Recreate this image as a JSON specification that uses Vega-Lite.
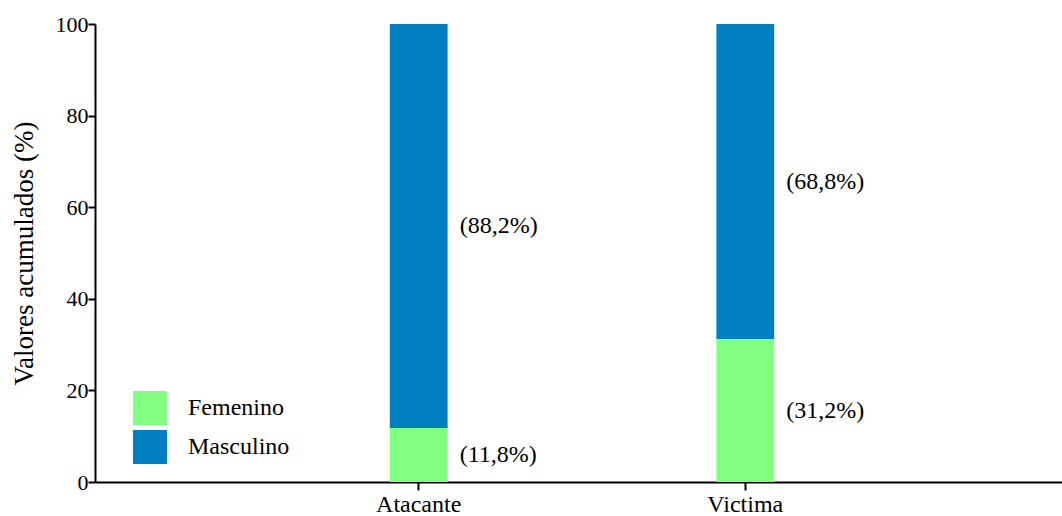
{
  "$schema": "https://vega.github.io/schema/vega-lite/v6.json",
  "autosize": {"type": "none"},
  "padding": {"left": 95, "top": 24, "right": 0, "bottom": 34},
  "width": 967,
  "height": 458,
  "background": "white",
  "config": {
    "view": {"stroke": null},
    "font": "Liberation Serif",
    "axis": {"grid": false, "domainColor": "black", "tickColor": "black", "domainWidth": 2, "tickWidth": 2, "labelColor": "black", "titleColor": "black", "labelFont": "Liberation Serif", "titleFont": "Liberation Serif"}
  },
  "data": {
    "values": [
      {"rol": "Atacante", "sexo": "Femenino", "valor": 11.8, "etiqueta": "(11,8%)"},
      {"rol": "Atacante", "sexo": "Masculino", "valor": 88.2, "etiqueta": "(88,2%)"},
      {"rol": "Victima", "sexo": "Femenino", "valor": 31.2, "etiqueta": "(31,2%)"},
      {"rol": "Victima", "sexo": "Masculino", "valor": 68.8, "etiqueta": "(68,8%)"}
    ]
  },
  "encoding": {
    "x": {
      "field": "rol", "type": "nominal", "sort": ["Atacante", "Victima"],
      "scale": {"paddingInner": 0.823, "paddingOuter": 0.892, "align": 0.506},
      "axis": {"title": null, "labelAngle": 0, "labelFontSize": 24, "tickSize": 8, "labelPadding": 2}
    }
  },
  "layer": [
    {
      "mark": {"type": "bar"},
      "encoding": {
        "y": {
          "field": "valor", "type": "quantitative", "stack": "zero",
          "scale": {"domain": [0, 100], "nice": false},
          "axis": {"title": "Valores acumulados (%)", "values": [0, 20, 40, 60, 80, 100], "labelFontSize": 22, "tickSize": 7, "labelPadding": 0, "titleFontSize": 27, "titleFontWeight": "normal", "titlePadding": 17}
        },
        "color": {
          "field": "sexo", "type": "nominal",
          "scale": {"domain": ["Femenino", "Masculino"], "range": ["#80FF80", "#0080C0"]},
          "legend": {"title": null, "orient": "none", "legendX": 38, "legendY": 367, "symbolType": "square", "symbolSize": 1156, "symbolStrokeWidth": 0, "labelFontSize": 24, "labelFont": "Liberation Serif", "labelColor": "black", "rowPadding": 5, "labelOffset": 21, "padding": 0}
        },
        "order": {"field": "sexo", "sort": "ascending"}
      }
    },
    {
      "mark": {"type": "text", "align": "left", "baseline": "middle", "dx": 41, "fontSize": 24, "font": "Liberation Serif", "color": "black"},
      "encoding": {
        "y": {"field": "valor", "type": "quantitative", "stack": "zero", "bandPosition": 0.5},
        "text": {"field": "etiqueta"},
        "detail": {"field": "sexo"},
        "order": {"field": "sexo", "sort": "ascending"}
      }
    }
  ]
}
